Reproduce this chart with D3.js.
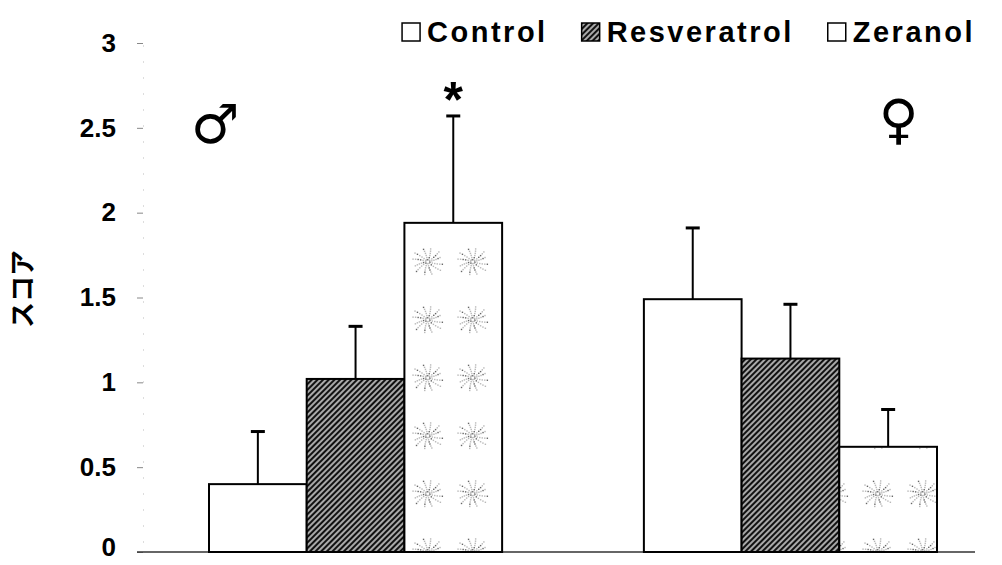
<!DOCTYPE html>
<html>
<head>
<meta charset="utf-8">
<script src="https://cdn.jsdelivr.net/npm/d3@7/dist/d3.min.js"></script>
<style>
  body { margin: 0; background: #fff; }
  #chart text { font-family: "Liberation Sans", Arial, sans-serif; font-weight: bold; fill: #000; }
</style>
</head>
<body>
<div id="chart"></div>
<script>
// data
var groups = ['male', 'female'];
var groupSymbols = ['\u2642', '\u2640'];
var series = ['Control', 'Resveratrol', 'Zeranol'];
var means = [
  [0.40, 1.02, 1.94],
  [1.49, 1.14, 0.62]
];
var errTops = [
  [0.71, 1.33, 2.57],
  [1.91, 1.46, 0.84]
];
var yTicks = [0, 0.5, 1, 1.5, 2, 2.5, 3];
var yTickLabels = ['0', '0.5', '1', '1.5', '2', '2.5', '3'];
var yLabel = 'スコア';
var starred = [[false, false, true], [false, false, false]];

var W = 1002, H = 565;
var plotLeft = 143, plotRight = 975;

var svg = d3.select('#chart').append('svg')
  .attr('width', W)
  .attr('height', H);

// patterns
var defs = svg.append('defs');
var hatch = defs.append('pattern')
  .attr('id', 'hatch')
  .attr('patternUnits', 'userSpaceOnUse')
  .attr('width', 4).attr('height', 4)
  .attr('patternTransform', 'rotate(45)');
hatch.append('rect').attr('width', 4).attr('height', 4).attr('fill', '#a8a8a8');
hatch.append('rect').attr('width', 2).attr('height', 4).attr('fill', '#111');

var speck = defs.append('pattern')
  .attr('id', 'speck')
  .attr('patternUnits', 'userSpaceOnUse')
  .attr('width', 45).attr('height', 58);
speck.append('rect').attr('width', 45).attr('height', 58).attr('fill', '#fff');
// grey flower-like specks, one cluster per tile
for (var a = 0; a < 12; a++) {
  for (var r = 2; r <= 13; r += 2.2) {
    speck.append('rect')
      .attr('x', 22 + Math.cos(a * Math.PI / 6 + r * 0.7) * r * (1 + (a % 3) * 0.15))
      .attr('y', 29 + Math.sin(a * Math.PI / 6 + r * 0.7) * r)
      .attr('width', 1.4).attr('height', 1.4)
      .attr('fill', (a + Math.round(r)) % 4 ? '#b8b8b8' : '#666');
  }
}

// scales
var y = d3.scaleLinear().domain([0, 3]).range([552, 43]);
var x0 = d3.scaleBand().domain(groups).range([209, 937]).paddingInner(0.326).paddingOuter(0);
var x1 = d3.scaleBand().domain(series).range([0, x0.bandwidth()]).padding(0);
var fills = d3.scaleOrdinal().domain(series).range(['#fff', 'url(#hatch)', 'url(#speck)']);

// y axis
var yAxis = d3.axisLeft(y)
  .tickValues(yTicks)
  .tickFormat(function (d, i) { return yTickLabels[i]; })
  .tickSize(6)
  .tickPadding(21);
var gy = svg.append('g')
  .attr('transform', 'translate(' + plotLeft + ',0)')
  .call(yAxis);
gy.select('.domain').attr('stroke', '#ddd').attr('stroke-dasharray', '2,14');
gy.selectAll('.tick line').attr('stroke', '#888');
gy.selectAll('.tick text')
  .attr('font-size', 26)
  .style('font-size', '26px')
  .attr('dy', function (d) { return d === 0 ? '0.12em' : '0.32em'; }); // keep "0" inside the frame

svg.append('text')
  .attr('transform', 'translate(32,' + y(1.55) + ') rotate(-90)')
  .attr('text-anchor', 'middle')
  .style('font-family', '"Noto Sans CJK JP", sans-serif')
  .style('font-size', '26px')
  .text(yLabel);

// baseline
svg.append('line')
  .attr('x1', plotLeft - 6).attr('x2', plotRight)
  .attr('y1', y(0)).attr('y2', y(0))
  .attr('stroke', '#333')
  .attr('stroke-width', 1.5);

// bars
var rows = [];
groups.forEach(function (g, gi) {
  series.forEach(function (s, si) {
    rows.push({ g: g, s: s, v: means[gi][si], e: errTops[gi][si], star: starred[gi][si] });
  });
});

var bar = svg.selectAll('g.bar').data(rows).enter().append('g').attr('class', 'bar');

bar.append('line')
  .attr('x1', function (d) { return x0(d.g) + x1(d.s) + x1.bandwidth() / 2; })
  .attr('x2', function (d) { return x0(d.g) + x1(d.s) + x1.bandwidth() / 2; })
  .attr('y1', function (d) { return y(d.v); })
  .attr('y2', function (d) { return y(d.e); })
  .attr('stroke', '#000').attr('stroke-width', 2);
bar.append('line')
  .attr('x1', function (d) { return x0(d.g) + x1(d.s) + x1.bandwidth() / 2 - 7; })
  .attr('x2', function (d) { return x0(d.g) + x1(d.s) + x1.bandwidth() / 2 + 7; })
  .attr('y1', function (d) { return y(d.e); })
  .attr('y2', function (d) { return y(d.e); })
  .attr('stroke', '#000').attr('stroke-width', 3);

bar.append('rect')
  .attr('x', function (d) { return x0(d.g) + x1(d.s); })
  .attr('y', function (d) { return y(d.v); })
  .attr('width', x1.bandwidth())
  .attr('height', function (d) { return y(0) - y(d.v); })
  .attr('fill', function (d) { return fills(d.s); })
  .attr('stroke', '#000')
  .attr('stroke-width', 2);

bar.filter(function (d) { return d.star; }).append('text')
  .attr('x', function (d) { return x0(d.g) + x1(d.s) + x1.bandwidth() / 2; })
  .attr('y', function (d) { return y(d.e) + 1; })
  .attr('text-anchor', 'middle')
  .style('font-size', '50px')
  .text('*');

// sex symbols
svg.append('text')
  .attr('x', x0('male') - 18).attr('y', 143)
  .style('font-family', '"DejaVu Sans", sans-serif')
  .style('font-size', '54px')
  .text(groupSymbols[0]);
svg.append('text')
  .attr('x', x0('female') + x0.bandwidth() - 58).attr('y', 138)
  .style('font-family', '"DejaVu Sans", sans-serif')
  .style('font-size', '54px')
  .text(groupSymbols[1]);

// legend, laid out left to right then right-aligned to the plot edge
var leg = svg.append('g').attr('class', 'legend');
var gap = 34;
var cursor = 0;
series.forEach(function (s) {
  var item = leg.append('g').attr('transform', 'translate(' + cursor + ',0)');
  item.append('rect')
    .attr('y', 1)
    .attr('width', 18).attr('height', 18)
    .attr('fill', fills(s))
    .attr('stroke', '#000').attr('stroke-width', 1.5);
  var t = item.append('text')
    .attr('x', 25).attr('y', 20)
    .style('font-size', '29px')
    .style('letter-spacing', '2.5px')
    .text(s);
  cursor += 25 + t.node().getComputedTextLength() + gap;
});
leg.attr('transform', 'translate(' + (plotRight - (cursor - gap)) + ',22)');
</script>
</body>
</html>
